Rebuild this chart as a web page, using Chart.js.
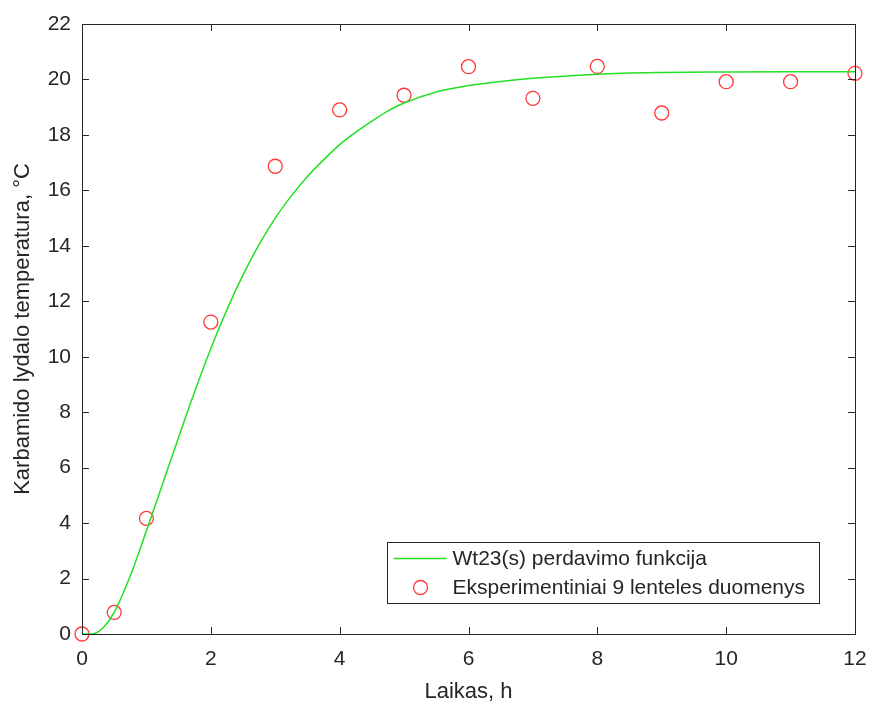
<!DOCTYPE html>
<html>
<head>
<meta charset="utf-8">
<script src="https://cdn.jsdelivr.net/npm/chart.js@4"></script>
<style>
  html, body { margin: 0; padding: 0; background: #fff; }
  #wrap { width: 871px; height: 709px; }
</style>
</head>
<body>
<div id="wrap"><canvas id="tempChart" width="871" height="709"></canvas></div>
<script>
// measured points (table 9)
const timeH = [0, 0.5, 1, 2, 3, 4, 5, 6, 7, 8, 9, 10, 11, 12];
const measuredTemp = [0, 0.78, 4.17, 11.25, 16.87, 18.9, 19.43, 20.46, 19.32, 20.47, 18.79, 19.92, 19.92, 20.22];

// Wt23(s) response
const modelTime = [0, 0.15, 0.25, 0.35, 0.5, 0.75, 1, 1.25, 1.5, 1.75, 2, 2.25, 2.5, 2.75, 3, 3.25, 3.5, 3.75, 4, 4.25, 4.5, 4.75, 5, 5.5, 6, 6.5, 7, 8, 9, 10, 11, 12];
const modelTemp = [0, 0, 0.08, 0.28, 0.78, 2.1, 3.72, 5.4, 7.1, 8.75, 10.3, 11.7, 12.95, 14.05, 15.0, 15.8, 16.5, 17.1, 17.65, 18.1, 18.5, 18.87, 19.15, 19.55, 19.78, 19.93, 20.04, 20.19, 20.25, 20.27, 20.28, 20.28];

const xTicks = [0, 2, 4, 6, 8, 10, 12];
const yTicks = [0, 2, 4, 6, 8, 10, 12, 14, 16, 18, 20, 22];

const lineLabel = 'Wt23(s) perdavimo funkcija';
const pointLabel = 'Eksperimentiniai 9 lenteles duomenys';

const AXIS_COLOR = '#262626';
const FONT = '"Liberation Sans", Arial, sans-serif';

// box around axes + inward ticks (MATLAB style)
const boxTicks = {
  id: 'boxTicks',
  afterDatasetsDraw(chart) {
    const { ctx, chartArea: a, scales } = chart;
    const len = 7;
    ctx.save();
    ctx.strokeStyle = AXIS_COLOR;
    ctx.lineWidth = 1;
    ctx.strokeRect(Math.round(a.left) + 0.5, Math.round(a.top) + 0.5,
      Math.round(a.right - a.left), Math.round(a.bottom - a.top));
    ctx.beginPath();
    xTicks.forEach(v => {
      const px = Math.round(scales.x.getPixelForValue(v)) + 0.5;
      ctx.moveTo(px, a.bottom); ctx.lineTo(px, a.bottom - len);
      ctx.moveTo(px, a.top); ctx.lineTo(px, a.top + len);
    });
    yTicks.forEach(v => {
      const py = Math.round(scales.y.getPixelForValue(v)) + 0.5;
      ctx.moveTo(a.left, py); ctx.lineTo(a.left + len, py);
      ctx.moveTo(a.right, py); ctx.lineTo(a.right - len, py);
    });
    ctx.stroke();
    ctx.restore();
  },
  afterDraw(chart) {
    // legend box, lower right inside the axes
    const { ctx } = chart;
    const ds = chart.data.datasets;
    const x0 = 387.5, y0 = 542.5, w = 432, h = 61;
    ctx.save();
    ctx.fillStyle = '#fff';
    ctx.fillRect(x0, y0, w, h);
    ctx.strokeStyle = AXIS_COLOR;
    ctx.lineWidth = 1;
    ctx.strokeRect(x0, y0, w, h);

    ctx.font = '21px ' + FONT;
    ctx.fillStyle = AXIS_COLOR;
    ctx.textBaseline = 'middle';
    ctx.textAlign = 'left';

    const row1 = y0 + 16, row2 = y0 + 45;
    ctx.strokeStyle = ds[0].borderColor;
    ctx.lineWidth = ds[0].borderWidth;
    ctx.beginPath();
    ctx.moveTo(x0 + 6, row1); ctx.lineTo(x0 + 59, row1);
    ctx.stroke();
    ctx.fillText(ds[0].label, x0 + 65, row1 + 1);

    ctx.strokeStyle = ds[1].borderColor;
    ctx.lineWidth = ds[1].borderWidth;
    ctx.beginPath();
    ctx.arc(x0 + 33, row2, 7, 0, Math.PI * 2);
    ctx.stroke();
    ctx.fillText(ds[1].label, x0 + 65, row2 + 1);
    ctx.restore();
  }
};

const ctx = document.getElementById('tempChart').getContext('2d');
new Chart(ctx, {
  type: 'scatter',
  data: {
    datasets: [
      {
        type: 'line',
        label: lineLabel,
        data: modelTime.map((t, i) => ({ x: t, y: modelTemp[i] })),
        borderColor: '#22e022',
        borderWidth: 1.5,
        pointRadius: 0,
        fill: false,
        cubicInterpolationMode: 'monotone',
        clip: false
      },
      {
        label: pointLabel,
        data: timeH.map((t, i) => ({ x: t, y: measuredTemp[i] })),
        borderColor: 'rgba(255,20,20,0.85)',
        backgroundColor: 'rgba(0,0,0,0)',
        borderWidth: 1.3,
        pointRadius: 7,
        pointStyle: 'circle',
        clip: false
      }
    ]
  },
  options: {
    responsive: false,
    animation: false,
    layout: { padding: { top: 24, right: 16, left: 6, bottom: 0 } },
    plugins: {
      legend: { display: false },
      tooltip: { enabled: false }
    },
    scales: {
      x: {
        type: 'linear',
        min: 0, max: 12,
        afterBuildTicks: s => { s.ticks = xTicks.map(v => ({ value: v })); },
        afterFit: s => { s.height = 75; s.paddingLeft = 0; s.paddingRight = 0; },
        grid: { display: false, drawTicks: false },
        border: { display: false },
        ticks: { color: AXIS_COLOR, font: { family: FONT, size: 21 }, padding: 13, maxRotation: 0 },
        title: { display: true, text: 'Laikas, h', color: AXIS_COLOR, font: { family: FONT, size: 22 }, padding: { top: 3 } }
      },
      y: {
        type: 'linear',
        min: 0, max: 22,
        afterBuildTicks: s => { s.ticks = yTicks.map(v => ({ value: v })); },
        afterFit: s => { s.width = 76; s.paddingTop = 0; s.paddingBottom = 0; },
        grid: { display: false, drawTicks: false },
        border: { display: false },
        ticks: { color: AXIS_COLOR, font: { family: FONT, size: 21 }, padding: 11 },
        title: { display: true, text: 'Karbamido lydalo temperatura, °C', color: AXIS_COLOR, font: { family: FONT, size: 22 }, padding: { bottom: 0 } }
      }
    }
  },
  plugins: [boxTicks]
});
</script>
</body>
</html>
